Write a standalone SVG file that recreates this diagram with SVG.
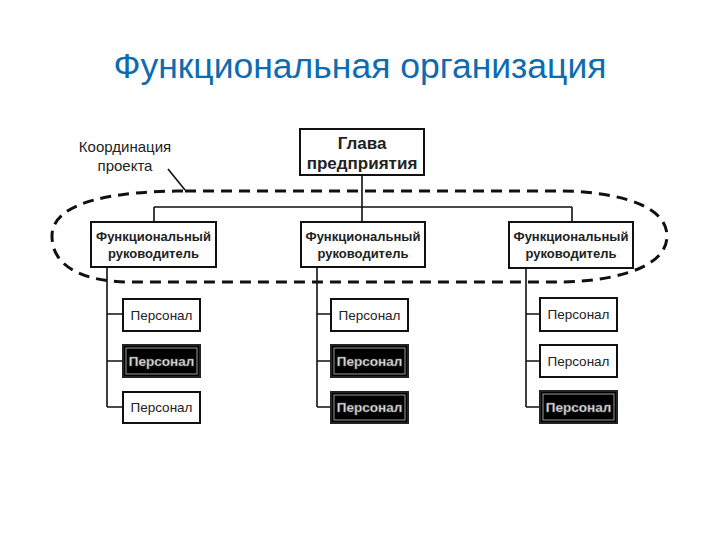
<svg xmlns="http://www.w3.org/2000/svg" width="720" height="540" viewBox="0 0 720 540">
<style>
.box{fill:#fff;stroke:#111;stroke-width:2}
.dbox{fill:#000;stroke:#222;stroke-width:2}
.din{fill:none;stroke:#9a9a9a;stroke-width:1}
.ln{fill:none;stroke:#111;stroke-width:1.6}
.t{font-family:"Liberation Sans",Arial,sans-serif;text-anchor:middle;fill:#222}
.b{font-weight:bold}
.p{font-size:13.5px}
.dt{font-family:"Liberation Sans",Arial,sans-serif;text-anchor:middle;fill:#e6e6e6;stroke:#666;stroke-width:0.5;font-size:13.5px;font-weight:bold}
</style>
<rect width="720" height="540" fill="#fff"/>
<text x="360" y="78" font-family="'Liberation Sans',Arial,sans-serif" font-size="35.5" fill="#0e6bb0" text-anchor="middle">Функциональная организация</text>

<g id="connectors">
<path class="ln" d="M362 175V207M154 207H572M154 207V222M572 207V222M362 207V222"/>
<path class="ln" d="M107 267V407M107 314H123M107 361H123M107 407H123"/>
<path class="ln" d="M317 267V407M317 314H331M317 361H331M317 407H331"/>
<path class="ln" d="M526 268V407M526 314H540M526 361H540M526 407H540"/>
<path class="ln" d="M168 169L185 190"/>
</g>

<g id="coordination">
<path d="M185 191H560C600 191 667 200 667 236C667 272 600 282 560 282H130C90 282 52 270 52 236C52 200 120 191 185 191Z" fill="none" stroke="#111" stroke-width="3" stroke-dasharray="11 7"/>
<text class="t" x="125" y="152" font-size="15">Координация</text>
<text class="t" x="125" y="171" font-size="15">проекта</text>
</g>

<g id="head">
<rect class="box" x="300" y="129" width="124" height="46"/>
<text class="t b" x="362" y="149" font-size="17">Глава</text>
<text class="t b" x="362" y="169" font-size="17">предприятия</text>
</g>

<g id="mgr1">
<rect class="box" x="91" y="222" width="125" height="45"/>
<text class="t b" x="153.5" y="241" font-size="13">Функциональный</text>
<text class="t b" x="153.5" y="258" font-size="13">руководитель</text>
</g>
<g id="mgr2">
<rect class="box" x="301" y="222" width="124" height="45"/>
<text class="t b" x="363" y="241" font-size="13">Функциональный</text>
<text class="t b" x="363" y="258" font-size="13">руководитель</text>
</g>
<g id="mgr3">
<rect class="box" x="509" y="222" width="124" height="46"/>
<text class="t b" x="571" y="241" font-size="13">Функциональный</text>
<text class="t b" x="571" y="258" font-size="13">руководитель</text>
</g>

<g id="p1a"><rect class="box" x="123" y="299" width="77" height="32"/><text class="t p" x="161.5" y="320">Персонал</text></g>
<g id="p1b"><rect class="dbox" x="123" y="345" width="77" height="32"/><rect class="din" x="126" y="348" width="71" height="26"/><text class="dt" x="161.5" y="366">Персонал</text></g>
<g id="p1c"><rect class="box" x="123" y="392" width="77" height="31"/><text class="t p" x="161.5" y="412">Персонал</text></g>

<g id="p2a"><rect class="box" x="331" y="299" width="77" height="32"/><text class="t p" x="369.5" y="320">Персонал</text></g>
<g id="p2b"><rect class="dbox" x="331" y="345" width="77" height="32"/><rect class="din" x="334" y="348" width="71" height="26"/><text class="dt" x="369.5" y="366">Персонал</text></g>
<g id="p2c"><rect class="dbox" x="331" y="392" width="77" height="31"/><rect class="din" x="334" y="395" width="71" height="25"/><text class="dt" x="369.5" y="412">Персонал</text></g>

<g id="p3a"><rect class="box" x="540" y="298" width="77" height="33"/><text class="t p" x="578.5" y="319">Персонал</text></g>
<g id="p3b"><rect class="box" x="540" y="345" width="77" height="32"/><text class="t p" x="578.5" y="366">Персонал</text></g>
<g id="p3c"><rect class="dbox" x="540" y="391" width="77" height="32"/><rect class="din" x="543" y="394" width="71" height="26"/><text class="dt" x="578.5" y="412">Персонал</text></g>
</svg>
